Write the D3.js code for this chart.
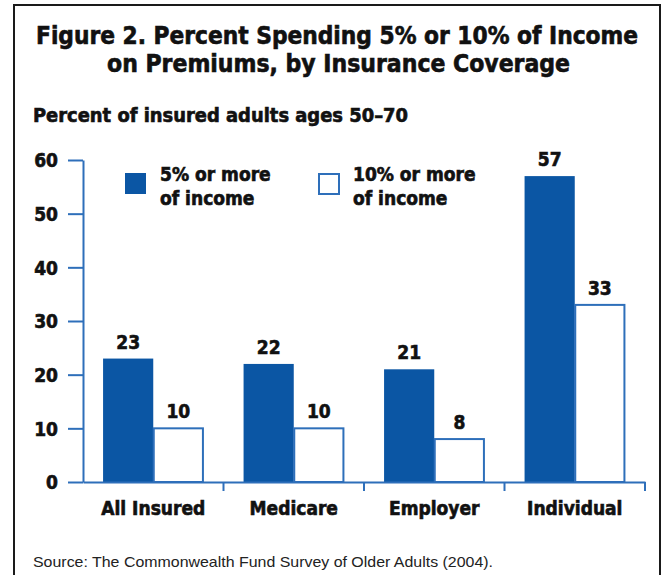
<!DOCTYPE html>
<html>
<head>
<meta charset="utf-8">
<script src="https://cdn.jsdelivr.net/npm/d3@7"></script>
<style>
  body { margin: 0; background: #fff; }
  .heavy { font-family: "DejaVu Sans Condensed", "Liberation Sans", sans-serif; font-weight: bold; fill: #111; stroke: #111; stroke-width: 0.6px; }
</style>
</head>
<body>
<svg></svg>
<script>
var width = 664;
var height = 575;

var categories = ["All Insured", "Medicare", "Employer", "Individual"];
var seriesNames = [["5% or more", "of income"], ["10% or more", "of income"]];
var fivePct = [23, 22, 21, 57];
var tenPct = [10, 10, 8, 33];
var yTicks = [0, 10, 20, 30, 40, 50, 60];

var blue = "#0b56a4";
var axisBlue = "#2e6fba";

var svg = d3.select("svg")
    .attr("width", width)
    .attr("height", height);

svg.append("rect")
    .attr("x", 14).attr("y", 5)
    .attr("width", 646).attr("height", 600)
    .attr("fill", "#fff")
    .attr("stroke", "#1a1a1a")
    .attr("stroke-width", 2);

svg.append("text").attr("class", "heavy")
    .attr("x", 36).attr("y", 44)
    .attr("font-size", 24.5)
    .attr("stroke-width", 0.9)
    .attr("textLength", 602)
    .attr("lengthAdjust", "spacingAndGlyphs")
    .text("Figure 2. Percent Spending 5% or 10% of Income");
svg.append("text").attr("class", "heavy")
    .attr("x", 107).attr("y", 72)
    .attr("font-size", 24.5)
    .attr("stroke-width", 0.9)
    .attr("textLength", 463)
    .attr("lengthAdjust", "spacingAndGlyphs")
    .text("on Premiums, by Insurance Coverage");

svg.append("text").attr("class", "heavy")
    .attr("x", 33).attr("y", 122)
    .attr("font-size", 19.5)
    .attr("textLength", 375)
    .attr("lengthAdjust", "spacingAndGlyphs")
    .text("Percent of insured adults ages 50\u201370");

var x = d3.scaleBand()
    .domain(categories)
    .range([83, 645])
    .padding(0);

var x1 = d3.scaleBand()
    .domain([0, 1])
    .range([0, x.bandwidth()])
    .paddingInner(0)
    .paddingOuter(0.4);

var y = d3.scaleLinear()
    .domain([0, 60])
    .range([482, 160]);

var rows = categories.map(function(c, i) {
    return {cat: c, vals: [fivePct[i], tenPct[i]]};
});

var groups = svg.append("g").selectAll("g")
    .data(rows)
  .enter().append("g")
    .attr("transform", function(d) { return "translate(" + x(d.cat) + ",0)"; });

groups.selectAll("rect")
    .data(function(d) { return d.vals; })
  .enter().append("rect")
    .attr("x", function(d, i) { return x1(i) + (i == 1 ? 0.5 : 0); })
    .attr("y", function(d) { return y(d); })
    .attr("width", function(d, i) { return x1.bandwidth() - (i == 1 ? 1 : 0); })
    .attr("height", function(d) { return y(0) - y(d); })
    .attr("fill", function(d, i) { return i == 0 ? blue : "#fff"; })
    .attr("stroke", function(d, i) { return i == 0 ? "none" : axisBlue; })
    .attr("stroke-width", 2);

groups.selectAll("text")
    .data(function(d) { return d.vals; })
  .enter().append("text")
    .attr("class", "heavy")
    .attr("x", function(d, i) { return x1(i) + x1.bandwidth() / 2; })
    .attr("y", function(d) { return y(d) - 10; })
    .attr("text-anchor", "middle")
    .attr("font-size", 19)
    .text(function(d) { return d; });

// y axis
var yAxis = svg.append("g")
    .attr("transform", "translate(83,0)")
    .call(d3.axisLeft(y).tickValues(yTicks).tickSize(15).tickSizeOuter(0).tickPadding(10));
yAxis.selectAll("line, path").attr("stroke", axisBlue).attr("stroke-width", 2);
yAxis.selectAll("text")
    .attr("class", "heavy")
    .attr("font-size", 19)
    .attr("dy", "0.36em");

// x axis: labels at band centres, ticks at band edges
var xAxis = svg.append("g")
    .attr("transform", "translate(0," + y(0) + ")")
    .call(d3.axisBottom(x).tickSize(0).tickPadding(20));
xAxis.select(".domain").attr("stroke", axisBlue).attr("stroke-width", 2);
xAxis.selectAll("text")
    .attr("class", "heavy")
    .attr("font-size", 19)
    .attr("dy", "0.71em");
xAxis.selectAll(".edge")
    .data(categories)
  .enter().append("line")
    .attr("class", "edge")
    .attr("x1", function(d) { return x(d) + x.bandwidth(); })
    .attr("x2", function(d) { return x(d) + x.bandwidth(); })
    .attr("y1", 0).attr("y2", 9)
    .attr("stroke", axisBlue)
    .attr("stroke-width", 2);

// legend
var legend = svg.append("g").selectAll("g")
    .data(seriesNames)
  .enter().append("g")
    .attr("transform", function(d, i) { return "translate(" + (125 + i * 193) + ",173)"; });
legend.append("rect")
    .attr("x", function(d, i) { return i == 1 ? 1 : 0; })
    .attr("y", function(d, i) { return i == 1 ? 1 : 0; })
    .attr("width", function(d, i) { return i == 1 ? 20 : 21; })
    .attr("height", function(d, i) { return i == 1 ? 20 : 21; })
    .attr("fill", function(d, i) { return i == 0 ? blue : "#fff"; })
    .attr("stroke", function(d, i) { return i == 0 ? "none" : axisBlue; })
    .attr("stroke-width", 2);
legend.append("text")
    .attr("class", "heavy")
    .attr("x", 35)
    .attr("y", 8)
    .attr("font-size", 19)
    .text(function(d) { return d[0]; });
legend.append("text")
    .attr("class", "heavy")
    .attr("x", 35)
    .attr("y", 32)
    .attr("font-size", 19)
    .text(function(d) { return d[1]; });

svg.append("text")
    .attr("x", 33).attr("y", 567)
    .attr("font-family", "Liberation Sans, Arial, sans-serif")
    .attr("font-size", 15)
    .attr("fill", "#222")
    .attr("textLength", 460)
    .attr("lengthAdjust", "spacingAndGlyphs")
    .text("Source: The Commonwealth Fund Survey of Older Adults (2004).");
</script>
</body>
</html>
